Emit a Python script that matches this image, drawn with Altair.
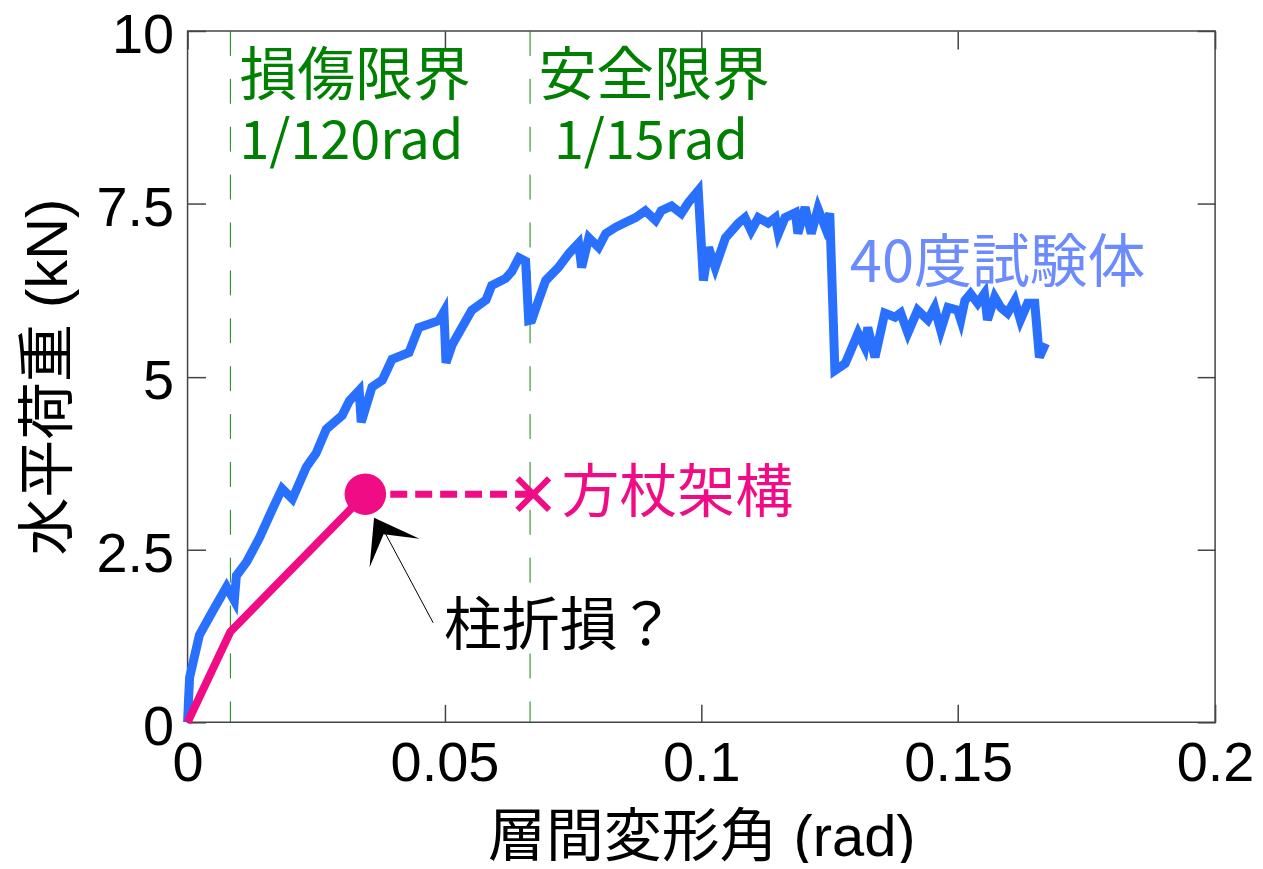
import altair as alt
import pandas as pd

# ---- 40度試験体 (blue curve) ----
drift = [0, 0.0002, 0.0004, 0.0023, 0.0049, 0.0076, 0.0091, 0.0095, 0.0115, 0.0140,
         0.0165, 0.0184, 0.0204, 0.0231, 0.0250, 0.0270, 0.0301, 0.0315, 0.0334, 0.0338,
         0.0359, 0.0379, 0.0398, 0.0431, 0.0450, 0.0489, 0.0499, 0.0503, 0.0515, 0.0534,
         0.0553, 0.0581, 0.0592, 0.0619, 0.0631, 0.0645, 0.0658, 0.0664,
         0.0670, 0.0683, 0.0697, 0.0722, 0.0742, 0.0761, 0.0767, 0.0781, 0.0800, 0.0814,
         0.0833, 0.0852, 0.0872, 0.0891, 0.0911, 0.0922, 0.0942, 0.0961, 0.0975, 0.0994,
         0.1004, 0.1014, 0.1027, 0.1047, 0.1072, 0.1085, 0.1097, 0.1111, 0.1130, 0.1144,
         0.1150, 0.1163, 0.1183, 0.1188, 0.1202, 0.1214, 0.1227, 0.1241, 0.1250, 0.1260,
         0.1280, 0.1291, 0.1305, 0.1318, 0.1324, 0.1338, 0.1357, 0.1377, 0.1388, 0.1402,
         0.1421, 0.1441, 0.1454, 0.1466, 0.1480, 0.1499, 0.1505, 0.1513, 0.1524, 0.1538,
         0.1551, 0.1557, 0.1571, 0.1583, 0.1596, 0.1610, 0.1621, 0.1635, 0.1649, 0.1658,
         0.1670]
load = [0, 0.35, 0.65, 1.26, 1.61, 1.96, 1.76, 2.12, 2.32, 2.67,
        3.08, 3.38, 3.23, 3.69, 3.89, 4.24, 4.44, 4.65, 4.80, 4.34,
        4.85, 4.95, 5.25, 5.35, 5.71, 5.81, 5.94, 5.20, 5.46, 5.71,
        5.96, 6.11, 6.32, 6.42, 6.52, 6.72, 6.67, 5.81,
        5.82, 6.10, 6.39, 6.58, 6.78, 6.93, 6.58, 7.01, 6.87, 7.07,
        7.16, 7.23, 7.30, 7.40, 7.26, 7.40, 7.47, 7.36, 7.52, 7.69,
        6.39, 6.87, 6.58, 7.01, 7.22, 7.30, 7.11, 7.30, 7.22, 7.30,
        7.07, 7.30, 7.37, 7.07, 7.45, 7.07, 7.43, 7.16, 7.36, 5.09,
        5.19, 5.38, 5.63, 5.43, 5.71, 5.28, 5.92, 5.86, 5.92, 5.63,
        5.96, 5.82, 6.00, 5.67, 6.00, 5.96, 5.82, 6.10, 6.20, 6.06,
        6.20, 5.82, 6.15, 6.00, 5.92, 6.10, 5.82, 6.06, 6.06, 5.28,
        5.48]

# ---- 方杖架構 (pink) ----
brace_drift = [0.0, 0.00833, 0.0346]
brace_load = [0.0, 1.31, 3.30]
dash_drift = [0.0346, 0.0673]
dash_load = [3.30, 3.30]
end_drift = [0.0673]
end_load = [3.30]
peak_drift = [0.0346]
peak_load = [3.30]

# ---- limits ----
limit_drift = [1 / 120, 1 / 15]

# ---- arrow (柱折損？) ----
arrow_tip_drift = [0.0363]
arrow_tip_load = [2.96]
arrow_line = {"x": [0.0383], "y": [2.76], "x2": [0.0478], "y2": [1.44]}

# ---- labels ----
label_text = ["損傷限界", "1/120rad", "安全限界", "1/15rad", "40度試験体", "方杖架構", "柱折損？"]
label_x = [0.0101, 0.0101, 0.0683, 0.0713, 0.1289, 0.0728, 0.0499]
label_y = [9.32, 8.38, 9.32, 8.38, 6.61, 3.29, 1.37]
label_size = [58, 54, 58, 54, 58, 58, 58]
label_color = ["#008000", "#008000", "#008000", "#008000", "#6b8bff", "#f00c84", "#000000"]

x_ticks = [0, 0.05, 0.1, 0.15, 0.2]
y_ticks = [0, 2.5, 5, 7.5, 10]

BLUE = "#2970ff"
PINK = "#f00c84"
GREEN = "#118811"
FRAME = "#444444"
LATIN = "Liberation Sans, Noto Sans CJK JP"
CJK = "Noto Sans CJK JP"

xs = alt.Scale(domain=[0, 0.2], nice=False, zero=False)
ys = alt.Scale(domain=[0, 10], nice=False, zero=False)

common_axis = dict(values=x_ticks, offset=-18, tickSize=18, domain=False, grid=False,
                   tickColor=FRAME, tickWidth=1.5)

x_bottom = alt.Axis(orient="bottom", labelFont=LATIN, labelFontSize=56, labelPadding=14,
                    labelFlush=False, labelColor="black", labelExpr="'' + datum.value",
                    title="層間変形角 (rad)", titleFont=LATIN, titleFontSize=58,
                    titleFontWeight="normal", titlePadding=19, titleColor="black",
                    labelOverlap=False, **common_axis)
y_left = alt.Axis(orient="left", values=y_ticks, offset=-18, tickSize=18, domain=False,
                  grid=False, tickColor=FRAME, tickWidth=1.5, labelFont=LATIN,
                  labelFontSize=56, labelPadding=14, labelColor="black",
                  labelExpr="'' + datum.value", labelOffset=5,
                  labelFlush=False, labelOverlap=False,
                  title="水平荷重 (kN)", titleFont=LATIN, titleFontSize=58,
                  titleFontWeight="normal", titlePadding=18, titleColor="black")
x_top = alt.Axis(orient="top", labels=False, title=None, **common_axis)
y_right = alt.Axis(orient="right", values=y_ticks, offset=-18, tickSize=18, domain=False,
                   grid=False, tickColor=FRAME, tickWidth=1.5, labels=False, title=None)

blue_df = pd.DataFrame({"drift": drift, "load": load, "order": list(range(len(drift)))})
brace_df = pd.DataFrame({"drift": brace_drift, "load": brace_load})
dash_df = pd.DataFrame({"drift": dash_drift, "load": dash_load})
end_df = pd.DataFrame({"drift": end_drift, "load": end_load})
peak_df = pd.DataFrame({"drift": peak_drift, "load": peak_load})
limit_df = pd.DataFrame({"drift": limit_drift})
tip_df = pd.DataFrame({"drift": arrow_tip_drift, "load": arrow_tip_load})
line_df = pd.DataFrame(arrow_line)
label_df = pd.DataFrame({"text": label_text, "drift": label_x, "load": label_y,
                         "color": label_color, "size": label_size})

limits = alt.Chart(limit_df).mark_rule(color=GREEN, strokeWidth=1, strokeDash=[25, 23]).encode(
    x=alt.X("drift:Q", scale=xs, axis=None)
)

blue = alt.Chart(blue_df).mark_line(color=BLUE, strokeWidth=9, strokeJoin="miter").encode(
    x=alt.X("drift:Q", scale=xs, axis=x_bottom),
    y=alt.Y("load:Q", scale=ys, axis=y_left),
    order="order:Q",
)

brace = alt.Chart(brace_df).mark_line(color=PINK, strokeWidth=8).encode(
    x=alt.X("drift:Q", scale=xs, axis=None),
    y=alt.Y("load:Q", scale=ys, axis=None),
)

dash = alt.Chart(dash_df).mark_line(color=PINK, strokeWidth=7, strokeDash=[17, 8]).encode(
    x=alt.X("drift:Q", scale=xs, axis=x_top),
    y=alt.Y("load:Q", scale=ys, axis=y_right),
)

peak = alt.Chart(peak_df).mark_point(shape="circle", filled=True, color=PINK, size=1735,
                                     opacity=1).encode(
    x=alt.X("drift:Q", scale=xs, axis=None),
    y=alt.Y("load:Q", scale=ys, axis=None),
)

end = alt.Chart(end_df).mark_point(shape="M-1,-1L1,1M-1,1L1,-1", filled=False, color=PINK,
                                   strokeWidth=6, size=1000, opacity=1).encode(
    x=alt.X("drift:Q", scale=xs, axis=None),
    y=alt.Y("load:Q", scale=ys, axis=None),
)

arrow_line_layer = alt.Chart(line_df).mark_rule(color="black", strokeWidth=1).encode(
    x=alt.X("x:Q", scale=xs, axis=None),
    y=alt.Y("y:Q", scale=ys, axis=None),
    x2="x2:Q",
    y2="y2:Q",
)

arrow_head = alt.Chart(tip_df).mark_point(shape="M0,0L1.41,2L0,0.93L-1.41,2Z", filled=True,
                                          color="black", size=1681, angle=330,
                                          opacity=1).encode(
    x=alt.X("drift:Q", scale=xs, axis=None),
    y=alt.Y("load:Q", scale=ys, axis=None),
)

labels = alt.Chart(label_df).mark_text(font=CJK, align="left",
                                       baseline="middle").encode(
    x=alt.X("drift:Q", scale=xs, axis=None),
    y=alt.Y("load:Q", scale=ys, axis=None),
    text="text:N",
    color=alt.Color("color:N", scale=None),
    size=alt.Size("size:Q", scale=None),
)

chart = alt.layer(
    limits, blue, brace, dash, peak, end, arrow_line_layer, arrow_head, labels
).resolve_axis(
    x="independent", y="independent"
).properties(
    width=1030,
    height=693,
    autosize=alt.AutoSizeParams(type="none"),
    padding={"left": 180, "top": 22, "right": 40, "bottom": 140},
    background="white",
).configure_view(
    stroke=FRAME, strokeWidth=1.5
)

chart.save("out.html", embed_options={"renderer": "svg", "actions": False})
